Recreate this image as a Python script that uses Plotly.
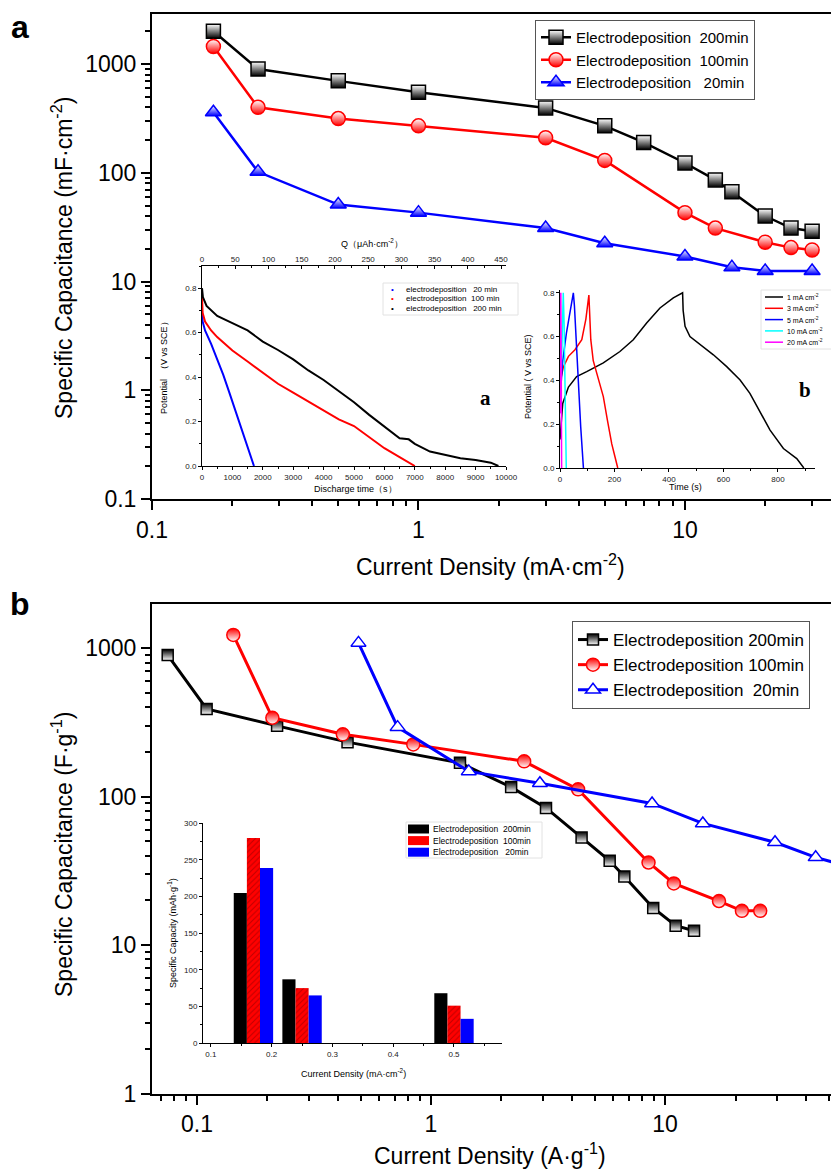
import plotly.graph_objects as go

W, H = 831, 1169

# ---------------------------------------------------------------------------
# data
# ---------------------------------------------------------------------------

# panel a: areal capacitance (mF cm-2) vs current density (mA cm-2)
A_J_200 = [0.17, 0.25, 0.5, 1, 3, 5, 7, 10, 13, 15, 20, 25, 30]
A_C_200 = [2000, 900, 700, 550, 395, 270, 190, 123, 86, 67, 40, 31, 29]
A_J_100 = [0.17, 0.25, 0.5, 1, 3, 5, 10, 13, 20, 25, 30]
A_C_100 = [1450, 400, 315, 270, 210, 130, 43, 31, 23, 20.5, 19.5]
A_J_20 = [0.17, 0.25, 0.5, 1, 3, 5, 10, 15, 20, 30]
A_C_20 = [360, 102, 51, 43, 31, 22.5, 17, 13.5, 12.5, 12.5]

# inset a: discharge curves, time (s) / potential (V vs SCE)
DIS_T_20 = [0, 20, 100, 300, 500, 700, 900, 1100, 1300, 1500, 1710]
DIS_V_20 = [0.70, 0.65, 0.61, 0.55, 0.48, 0.41, 0.33, 0.25, 0.17, 0.09, 0.0]
DIS_T_100 = [0, 20, 100, 300, 500, 1000, 1500, 2000, 2500, 3000, 3500, 4000,
             4500, 5000, 5500, 6000, 6500, 7000]
DIS_V_100 = [0.76, 0.69, 0.65, 0.61, 0.58, 0.52, 0.47, 0.42, 0.37, 0.33, 0.29,
             0.25, 0.21, 0.18, 0.13, 0.08, 0.04, 0.0]
DIS_T_200 = [0, 30, 150, 500, 1000, 1500, 2000, 2500, 3000, 3500, 4000, 4500,
             5000, 5500, 6000, 6500, 6800, 7000, 7500, 8000, 8500, 9000, 9500, 9750]
DIS_V_200 = [0.80, 0.76, 0.72, 0.675, 0.643, 0.61, 0.56, 0.522, 0.48, 0.43, 0.387,
             0.335, 0.287, 0.23, 0.177, 0.125, 0.12, 0.10, 0.065, 0.05, 0.035,
             0.027, 0.015, 0.0]

# inset b: charge/discharge curves, time (s) / potential (V vs SCE)
GCD_T_1 = [0, 5, 10, 31, 61, 98, 159, 220, 269, 318, 367, 416, 450, 452, 459,
           477, 514, 563, 612, 661, 697, 734, 771, 820, 869, 895]
GCD_V_1 = [0.13, 0.22, 0.295, 0.37, 0.418, 0.44, 0.48, 0.532, 0.586, 0.662, 0.731,
           0.777, 0.80, 0.72, 0.647, 0.60, 0.563, 0.517, 0.463, 0.402, 0.341,
           0.257, 0.173, 0.089, 0.043, 0.0]
GCD_T_3 = [2, 12, 31, 55, 80, 95, 106, 110, 113, 122, 141, 159, 174, 190, 202, 212]
GCD_V_3 = [0.40, 0.46, 0.51, 0.54, 0.586, 0.68, 0.79, 0.69, 0.586, 0.49, 0.40,
           0.326, 0.219, 0.11, 0.05, 0.0]
GCD_T_5 = [1, 10, 24, 37, 49, 53, 59, 67, 76, 86]
GCD_V_5 = [0.33, 0.49, 0.62, 0.71, 0.80, 0.74, 0.586, 0.387, 0.188, 0.0]
GCD_T_10 = [1, 6, 12, 15, 20, 23]
GCD_V_10 = [0.25, 0.46, 0.80, 0.66, 0.28, 0.0]
GCD_T_20 = [0, 2, 3, 4, 6]
GCD_V_20 = [0.25, 0.60, 0.80, 0.60, 0.0]

# panel b: gravimetric capacitance (F g-1) vs current density (A g-1)
B_J_200 = [0.075, 0.11, 0.22, 0.44, 1.33, 2.2, 3.1, 4.4, 5.8, 6.7, 8.9, 11.1, 13.3]
B_C_200 = [900, 390, 300, 233, 169, 116, 84, 53, 37, 29, 17.8, 13.5, 12.5]
B_J_100 = [0.143, 0.21, 0.42, 0.84, 2.5, 4.25, 8.5, 10.9, 17, 21.3, 25.5]
B_C_100 = [1230, 340, 263, 225, 173, 112, 36, 26, 19.8, 17, 17]
B_J_20 = [0.49, 0.72, 1.45, 2.92, 8.8, 14.5, 29.5, 44, 60]
B_C_20 = [1086, 294, 148, 123, 90, 66, 49.3, 39, 34]

# inset of panel b: specific capacity (mAh g-1) at three current densities
BAR_J = [0.17, 0.25, 0.5]
BAR_200 = [205, 87, 68]
BAR_100 = [280, 75, 51]
BAR_20 = [239, 65, 33]

# tick labels
LOG_A_Y = [0.1, 1, 10, 100, 1000]
LOG_A_X = [0.1, 1, 10]
LOG_B_Y = [1, 10, 100, 1000]
LOG_B_X = [0.1, 1, 10]
MINOR_LOG = [m * 10.0 ** e for e in range(-2, 4) for m in range(2, 10)]

# ---------------------------------------------------------------------------
# helpers
# ---------------------------------------------------------------------------

FONT = "Liberation Sans, Arial, sans-serif"
SERIF = "Liberation Serif, Times New Roman, serif"


def px(x):
    return x / W


def py(y):
    return 1 - y / H


def dom_x(left, right):
    return [px(left), px(right)]


def dom_y(top, bottom):
    return [py(bottom), py(top)]


def tick_text(vals):
    return [("%g" % v) for v in vals]


def main_axis(**kw):
    ax = dict(type="log", showline=True, linecolor="black", linewidth=2,
              ticks="outside", ticklen=9, tickwidth=2, tickcolor="black",
              showgrid=False, zeroline=False, automargin=False,
              tickfont=dict(family=FONT, size=23, color="black"),
              minor=dict(tickmode="array", tickvals=MINOR_LOG, ticks="outside",
                         ticklen=5, tickwidth=1.5, tickcolor="black", showgrid=False))
    ax.update(kw)
    return ax


def inset_axis(**kw):
    ax = dict(showline=True, linecolor="black", linewidth=1, ticks="outside",
              ticklen=3, tickwidth=1, tickcolor="black", showgrid=False,
              zeroline=False, automargin=False,
              tickfont=dict(family=FONT, size=8, color="#222"))
    ax.update(kw)
    return ax


fig = go.Figure()

# ---------------------------------------------------------------------------
# panel a  (markers: coloured top half, white bottom half)
# ---------------------------------------------------------------------------
for name, xs, ys, col, sym in [
    ("Electrodeposition\u00a0 200min", A_J_200, A_C_200, "black", "square"),
    ("Electrodeposition\u00a0 100min", A_J_100, A_C_100, "red", "circle"),
    ("Electrodeposition\u00a0\u00a0 20min", A_J_20, A_C_20, "blue", "triangle-up"),
]:
    fig.add_trace(go.Scatter(
        x=xs, y=ys, name=name, mode="lines+markers", xaxis="x", yaxis="y",
        legend="legend", line=dict(color=col, width=2.5),
        marker=dict(symbol=sym, size=14, color="white",
                    gradient=dict(type="vertical", color=col),
                    line=dict(color=col, width=1.5))))

# inset a
INSET_A = [
    ("electrodeposition\u00a0\u00a0 20 min", DIS_T_20, DIS_V_20, "blue"),
    ("electrodeposition\u00a0 100 min", DIS_T_100, DIS_V_100, "red"),
    ("electrodeposition\u00a0\u00a0 200 min", DIS_T_200, DIS_V_200, "black"),
]
for name, xs, ys, col in INSET_A:
    fig.add_trace(go.Scatter(x=xs, y=ys, name=name, mode="lines", xaxis="x2",
                             yaxis="y2", line=dict(color=col, width=2),
                             showlegend=False))
# empty trace so the top (Q) axis of inset a gets drawn
fig.add_trace(go.Scatter(x=[None], y=[None], xaxis="x3", yaxis="y2",
                         showlegend=False, hoverinfo="skip"))

# inset b
INSET_B = [
    ("1 mA cm<sup>-2</sup>", GCD_T_1, GCD_V_1, "black"),
    ("3 mA cm<sup>-2</sup>", GCD_T_3, GCD_V_3, "red"),
    ("5 mA cm<sup>-2</sup>", GCD_T_5, GCD_V_5, "blue"),
    ("10 mA cm<sup>-2</sup>", GCD_T_10, GCD_V_10, "cyan"),
    ("20 mA cm<sup>-2</sup>", GCD_T_20, GCD_V_20, "magenta"),
]
for name, xs, ys, col in INSET_B:
    fig.add_trace(go.Scatter(x=xs, y=ys, name=name, mode="lines", xaxis="x4",
                             yaxis="y4", showlegend=False,
                             line=dict(color=col, width=1.5)))

# ---------------------------------------------------------------------------
# panel b  (markers: white top half, coloured bottom half; open triangles)
# ---------------------------------------------------------------------------
for name, xs, ys, col, sym, size in [
    ("Electrodeposition 200min", B_J_200, B_C_200, "black", "square", 11),
    ("Electrodeposition 100min", B_J_100, B_C_100, "red", "circle", 13),
    ("Electrodeposition\u00a0 20min", B_J_20, B_C_20, "blue", "triangle-up", 13),
]:
    fig.add_trace(go.Scatter(
        x=xs, y=ys, name=name, mode="lines+markers", xaxis="x5", yaxis="y5",
        legend="legend2", line=dict(color=col, width=3),
        marker=dict(symbol=sym, size=size, color="white" if col == "blue" else col,
                    gradient=None if col == "blue" else dict(type="vertical", color="white"),
                    line=dict(color=col, width=1.5))))

# bar inset
BARS = [
    ("Electrodeposition\u00a0 200min", BAR_200, "black"),
    ("Electrodeposition\u00a0 100min", BAR_100, "red"),
    ("Electrodeposition\u00a0\u00a0 20min", BAR_20, "blue"),
]
for name, vals, col in BARS:
    marker = dict(color=col, line=dict(width=0))
    if col == "red":
        marker["pattern"] = dict(shape="/", fgcolor="#c00000", bgcolor="#ff0000",
                                 size=4, solidity=0.25)
    fig.add_trace(go.Bar(x=BAR_J, y=vals, name=name, xaxis="x6", yaxis="y6",
                         showlegend=False, marker=marker))

# ---------------------------------------------------------------------------
# text, inset legends
# ---------------------------------------------------------------------------
ann = []
shapes = []


def text(x, y, s, size, angle=0, family=FONT, color="black", xanchor="center"):
    ann.append(dict(x=px(x), y=py(y), xref="paper", yref="paper", text=s,
                    showarrow=False, textangle=angle, xanchor=xanchor,
                    yanchor="middle", font=dict(family=family, size=size, color=color)))


def box(x0, y0, x1, y1, color="#e2e2e2"):
    shapes.append(dict(type="rect", xref="paper", yref="paper", x0=px(x0), x1=px(x1),
                       y0=py(y1), y1=py(y0), line=dict(color=color, width=1),
                       fillcolor="white", layer="above"))


text(20, 27, "<b>a</b>", 32)
text(20, 604, "<b>b</b>", 32)
text(62, 258, "Specific Capacitance (mF·cm<sup>-2</sup>)", 23, angle=-90)
text(490, 565, "Current Density (mA·cm<sup>-2</sup>)", 23)
text(62, 855, "Specific Capacitance (F·g<sup>-1</sup>)", 23, angle=-90)
text(490, 1154, "Current Density (A·g<sup>-1</sup>)", 23)
# inset a
text(164, 366, "Potential\u00a0 （V vs SCE）", 9, angle=-90)
text(355, 489, "Discharge time（s）", 9)
text(372, 243, "Q（μAh·cm<sup>-2</sup>）", 9)
text(485, 398, "<b>a</b>", 21, family=SERIF)
# inset b
text(528, 377, "Potential ( V vs SCE)", 9, angle=-90)
text(685, 487, "Time (s)", 9)
text(805, 390, "<b>b</b>", 21, family=SERIF)
# bar inset
text(172, 933, "Specific Capacity (mAh·g<sup>-1</sup>)", 9, angle=-90)
text(353, 1073, "Current Density (mA·cm<sup>-2</sup>)", 9)

# inset a legend
box(383, 283, 518, 315)
for i, (name, _, _, col) in enumerate(INSET_A):
    yy = 289 + 10 * i
    text(392, yy, "•", 8, color=col)
    text(404, yy, name, 8, xanchor="left")

# inset b legend
box(761, 290, 833, 349)
for i, (name, _, _, col) in enumerate(INSET_B):
    yy = 297 + 11.3 * i
    shapes.append(dict(type="line", xref="paper", yref="paper", x0=px(765), x1=px(783),
                       y0=py(yy), y1=py(yy), line=dict(color=col, width=1.5),
                       layer="above"))
    text(785, yy, name, 7, xanchor="left")

# bar inset legend
box(406, 822, 542, 858)
for i, (name, _, col) in enumerate(BARS):
    yy = 829 + 11.6 * i
    shapes.append(dict(type="rect", xref="paper", yref="paper", x0=px(408), x1=px(429),
                       y0=py(yy + 4.5), y1=py(yy - 4.5), line=dict(width=0),
                       fillcolor=col, layer="above"))
    text(431, yy, name, 8.5, xanchor="left")

fig.update_layout(
    width=W, height=H, template="none",
    margin=dict(l=0, r=0, t=0, b=0),
    paper_bgcolor="white", plot_bgcolor="rgba(0,0,0,0)",
    font=dict(family=FONT, color="black"),
    barmode="group", bargap=0.19, bargroupgap=0,
    annotations=ann, shapes=shapes,
    # panel a
    xaxis=main_axis(domain=dom_x(152, 831), range=[-1, 1.548], anchor="y",
                    mirror=True, tickmode="array", tickvals=LOG_A_X,
                    ticktext=tick_text(LOG_A_X)),
    yaxis=main_axis(domain=dom_y(14, 499), range=[-1, 3.46], anchor="x",
                    tickmode="array", tickvals=LOG_A_Y, ticktext=tick_text(LOG_A_Y)),
    # inset a
    xaxis2=inset_axis(domain=dom_x(202, 506), range=[0, 10000], anchor="y2",
                      dtick=1000, tickformat="d",
                      minor=dict(dtick=500, ticks="outside", ticklen=2)),
    yaxis2=inset_axis(domain=dom_y(266, 466), range=[0, 0.9], anchor="x2",
                      dtick=0.2, tickformat=".1f",
                      minor=dict(dtick=0.1, ticks="outside", ticklen=2)),
    xaxis3=inset_axis(domain=dom_x(202, 506), range=[0, 457.5], anchor="y2",
                      overlaying="x2", side="top", dtick=50, ticks="inside",
                      tickformat="d", minor=dict(dtick=25, ticks="inside", ticklen=2)),
    # inset b
    xaxis4=inset_axis(domain=dom_x(560, 815), range=[0, 936], anchor="y4",
                      dtick=200, minor=dict(dtick=100, ticks="outside", ticklen=2)),
    yaxis4=inset_axis(domain=dom_y(290, 468), range=[0, 0.813], anchor="x4",
                      dtick=0.2, tickformat=".1f",
                      minor=dict(dtick=0.1, ticks="outside", ticklen=2)),
    # panel b
    xaxis5=main_axis(domain=dom_x(152, 831), range=[-1.192, 1.709], anchor="y5",
                     mirror=True, tickmode="array", tickvals=LOG_B_X,
                     ticktext=tick_text(LOG_B_X)),
    yaxis5=main_axis(domain=dom_y(604, 1093.5), range=[0, 3.298], anchor="x5",
                     tickmode="array", tickvals=LOG_B_Y, ticktext=tick_text(LOG_B_Y)),
    # bar inset
    xaxis6=inset_axis(domain=dom_x(203, 502), range=[0.087, 0.579], anchor="y6",
                      dtick=0.1, tick0=0.1, tickformat=".1f",
                      minor=dict(dtick=0.05, ticks="outside", ticklen=2)),
    yaxis6=inset_axis(domain=dom_y(823, 1043), range=[0, 300.5], anchor="x6",
                      dtick=50, minor=dict(dtick=25, ticks="outside", ticklen=2)),
    legend=dict(x=px(535), y=py(20), xanchor="left", yanchor="top",
                bgcolor="white", bordercolor="#555", borderwidth=1,
                font=dict(family=FONT, size=15), tracegroupgap=0),
    legend2=dict(x=px(572), y=py(621), xanchor="left", yanchor="top",
                 bgcolor="white", bordercolor="#555", borderwidth=1,
                 font=dict(family=FONT, size=17), tracegroupgap=0),
)

fig.write_html("out.html", config={"displayModeBar": False},
               post_script="document.body.style.margin='0px';")
